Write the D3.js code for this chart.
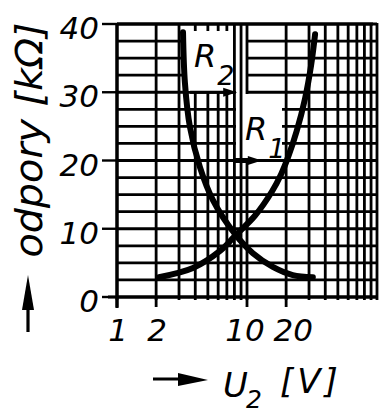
<!DOCTYPE html>
<html>
<head>
<meta charset="utf-8">
<script src="https://cdn.jsdelivr.net/npm/d3@7"></script>
<style>
html,body{margin:0;padding:0;background:#fff;}
svg{display:block;}
text{font-family:"DejaVu Sans",sans-serif;font-style:italic;fill:#000;}
</style>
</head>
<body>
<svg id="chart" width="380" height="414"></svg>
<script>
// ---- data ----
const xTickLabels = [1, 2, 10, 20];
const yTickLabels = [0, 10, 20, 30, 40];
const xGrid = [1, 2, 3, 4, 5, 6, 7, 8, 9, 10, 20, 30, 40, 50, 60, 70, 80, 90, 100];
const yGrid = [0, 2.5, 5, 7.5, 10, 12.5, 15, 17.5, 20, 22.5, 25, 27.5, 30, 32.5, 35, 37.5, 40];
const r1U = [2.1, 3.84, 6.2, 8.08, 11.5, 15.6, 18.3, 20.7, 24.1, 27.9, 31.1, 33.4];
const r1R = [2.9, 4.25, 6.75, 8.95, 11.9, 15.5, 18.0, 20.5, 24.3, 29.0, 33.9, 38.5];
const r2U = [3.22, 3.33, 3.64, 4.35, 5.47, 8.1, 11.1, 15.8, 22.5, 32.1];
const r2R = [38.8, 31.4, 24.9, 19.0, 14.2, 9.2, 6.4, 4.4, 3.2, 2.9];
const seriesNames = ["R", "R"];
const seriesSubs = ["1", "2"];
const yTitle = "odpory [kΩ]";
const xTitleMain = "U";
const xTitleSub = "2";
const xTitleUnit = "[V]";

const svg = d3.select("#chart");
const x = d3.scaleLog().domain([1, 100]).range([117, 377]);
const y = d3.scaleLinear().domain([0, 40]).range([297, 24]);
const ink = "#000";
const gridW = 2.8;

// masks to blank grid behind labels
const defs = svg.append("defs");
const hm = defs.append("mask").attr("id", "hmask");
hm.append("rect").attr("x", 0).attr("y", 0).attr("width", 380).attr("height", 414).attr("fill", "#fff");
hm.append("rect").attr("x", 186).attr("y", 31).attr("width", 62).attr("height", 60).attr("fill", "#000");
hm.append("rect").attr("x", 236).attr("y", 30).attr("width", 12).attr("height", 128).attr("fill", "#000");
hm.append("rect").attr("x", 244).attr("y", 97).attr("width", 38).attr("height", 61).attr("fill", "#000");
const vm = defs.append("mask").attr("id", "vmask");
vm.append("rect").attr("x", 0).attr("y", 0).attr("width", 380).attr("height", 414).attr("fill", "#fff");
vm.append("rect").attr("x", 186).attr("y", 31).attr("width", 45).attr("height", 60).attr("fill", "#000");
vm.append("rect").attr("x", 244).attr("y", 94).attr("width", 38).attr("height", 64).attr("fill", "#000");

// grid
svg.append("g").attr("mask", "url(#vmask)")
  .selectAll("line").data(xGrid).join("line")
  .attr("x1", d => x(d)).attr("x2", d => x(d))
  .attr("y1", y(40) - 1).attr("y2", y(0) + 3)
  .attr("stroke", ink).attr("stroke-width", gridW);
svg.append("g").attr("mask", "url(#hmask)")
  .selectAll("line").data(yGrid).join("line")
  .attr("x1", x(1)).attr("x2", x(100))
  .attr("y1", d => y(d)).attr("y2", d => y(d))
  .attr("stroke", ink).attr("stroke-width", gridW);

// axes (heavier)
svg.append("line").attr("x1", x(1)).attr("x2", x(1)).attr("y1", y(40) - 1).attr("y2", y(0) + 11)
  .attr("stroke", ink).attr("stroke-width", 3.2);
svg.append("line").attr("x1", x(1) - 9).attr("x2", x(100)).attr("y1", y(0)).attr("y2", y(0))
  .attr("stroke", ink).attr("stroke-width", 3.2);
svg.append("line").attr("x1", x(1)).attr("x2", x(100) - 4).attr("y1", y(40)).attr("y2", y(40))
  .attr("stroke", ink).attr("stroke-width", 3);

// y ticks & labels
svg.append("g").selectAll("line").data(yTickLabels).join("line")
  .attr("x1", x(1) - 15).attr("x2", x(1)).attr("y1", d => y(d)).attr("y2", d => y(d))
  .attr("stroke", ink).attr("stroke-width", 2.4);
svg.append("g").selectAll("text").data(yTickLabels).join("text")
  .attr("x", 99).attr("y", d => y(d) + 15)
  .attr("text-anchor", "end").attr("font-size", 31)
  .text(d => d);

// x ticks & labels
svg.append("g").selectAll("line").data(xTickLabels).join("line")
  .attr("x1", d => x(d)).attr("x2", d => x(d)).attr("y1", y(0)).attr("y2", y(0) + 10)
  .attr("stroke", ink).attr("stroke-width", 2.8);
svg.append("g").selectAll("text").data(xTickLabels).join("text")
  .attr("x", d => x(d) + (d === 20 ? 7 : d === 10 ? -2 : 1)).attr("y", 341)
  .attr("text-anchor", "middle").attr("font-size", 31)
  .text(d => d);

// curves
const line = d3.line().x(d => x(d[0])).y(d => y(d[1])).curve(d3.curveCatmullRom.alpha(0.5));
const r1 = r1U.map((u, i) => [u, r1R[i]]);
const r2 = r2U.map((u, i) => [u, r2R[i]]);
[r1, r2].forEach(s => {
  svg.append("path").attr("d", line(s)).attr("fill", "none")
    .attr("stroke", ink).attr("stroke-width", 6).attr("stroke-linecap", "round");
});

// series labels
function seriesLabel(px, py, i) {
  const t = svg.append("text").attr("x", px).attr("y", py).attr("font-size", 32);
  t.append("tspan").text(seriesNames[i]);
  t.append("tspan").attr("dx", 1).attr("dy", 18).attr("font-size", 27).text(seriesSubs[i]);
}
seriesLabel(194, 67, 1);
seriesLabel(245, 140, 0);

// label arrows (in data units)
function arrow(u0, u1, v, w) {
  const x0 = x(u0), x1 = x(u1), yy = y(v);
  svg.append("line").attr("x1", x0).attr("x2", x1 - 10).attr("y1", yy).attr("y2", yy)
    .attr("stroke", ink).attr("stroke-width", w);
  svg.append("path").attr("d", `M${x1},${yy} L${x1 - 14},${yy - 4.5} L${x1 - 14},${yy + 4.5} Z`).attr("fill", ink);
}
arrow(3.65, 8.4, 30, 2.8);
arrow(8.0, 13.0, 20, 5);
svg.append("line").attr("x1", x(13)).attr("x2", x(16.7)).attr("y1", y(20)).attr("y2", y(20))
  .attr("stroke", ink).attr("stroke-width", 2.6);

// axis titles
svg.append("text").attr("transform", "translate(42,140) rotate(-90)")
  .attr("text-anchor", "middle").attr("font-size", 38)
  .attr("textLength", 235).attr("lengthAdjust", "spacingAndGlyphs")
  .text(yTitle);
// y arrow
svg.append("line").attr("x1", 28).attr("x2", 28).attr("y1", 332).attr("y2", 300)
  .attr("stroke", ink).attr("stroke-width", 3.2);
svg.append("path").attr("d", "M28,275 L22,310 L34,310 Z").attr("fill", ink);
// x arrow
svg.append("line").attr("x1", 153).attr("x2", 190).attr("y1", 379).attr("y2", 379)
  .attr("stroke", ink).attr("stroke-width", 2.8);
svg.append("path").attr("d", "M208,380 L178,373 L178,386 Z").attr("fill", ink);
const xt = svg.append("text").attr("x", 223).attr("y", 397).attr("font-size", 34);
xt.append("tspan").text(xTitleMain);
xt.append("tspan").attr("dx", -2).attr("dy", 11).attr("font-size", 25).text(xTitleSub);
xt.append("tspan").attr("x", 280).attr("dy", -15).attr("letter-spacing", 4).text(xTitleUnit);
</script>
</body>
</html>
